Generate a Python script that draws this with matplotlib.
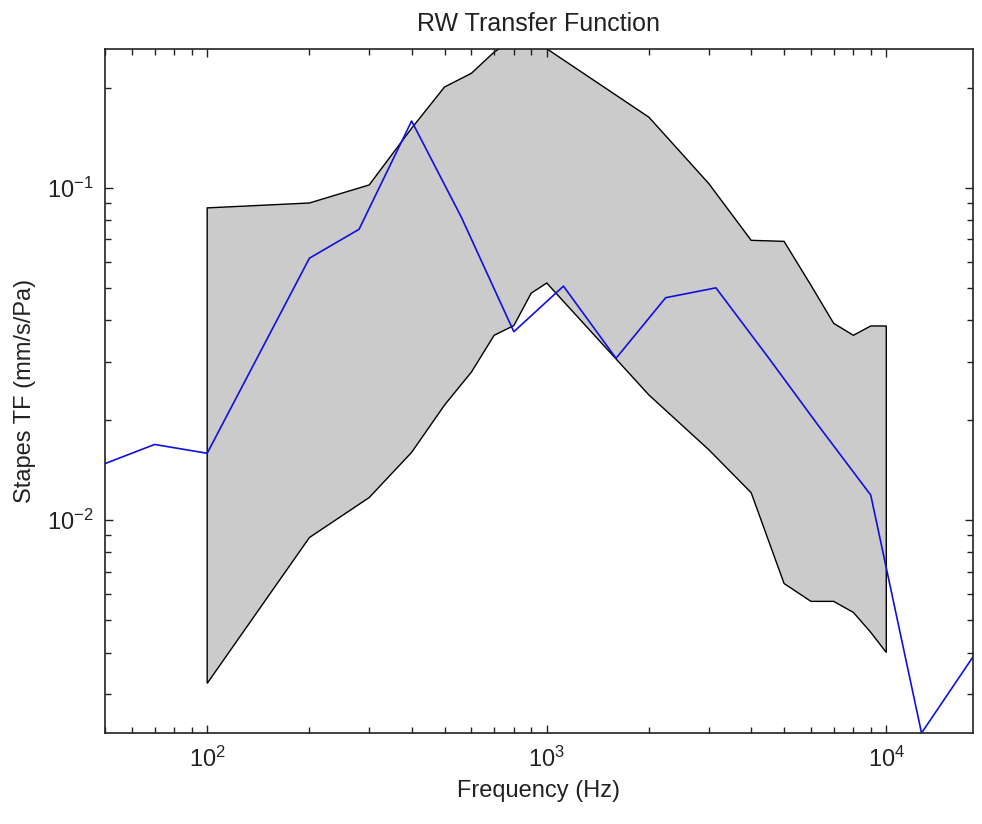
import matplotlib
matplotlib.use('Agg')
import matplotlib.pyplot as plt
from matplotlib.ticker import NullFormatter

plt.rcParams['font.family'] = ['Liberation Sans', 'DejaVu Sans']
plt.rcParams['mathtext.fontset'] = 'custom'
plt.rcParams['mathtext.rm'] = 'Liberation Sans'
plt.rcParams['mathtext.default'] = 'regular'
plt.rcParams['axes.unicode_minus'] = False

# normal range band (upper / lower bounds)
band_freq = [100, 200, 300, 400, 500, 600, 700, 800, 900, 1000,
             2000, 3000, 4000, 5000, 6000, 7000, 8000, 9000, 10000]
band_upper = [0.087, 0.090, 0.102, 0.151, 0.201, 0.221, 0.256, 0.28, 0.28, 0.262,
              0.163, 0.103, 0.0695, 0.069, 0.0509, 0.0391, 0.0360, 0.0384, 0.0384]
band_lower = [0.00323, 0.00887, 0.0117, 0.0160, 0.0222, 0.0279, 0.0360, 0.0385, 0.0482, 0.0517,
              0.0238, 0.0163, 0.0121, 0.00645, 0.0057, 0.0057, 0.00528, 0.0046, 0.0040]

# measured stapes transfer function
tf_freq = [50, 70, 100, 200, 280, 400, 560, 800, 1120, 1600, 2240, 3150,
           4500, 6300, 9000, 12700, 18000]
tf_vals = [0.0148, 0.0169, 0.0159, 0.0614, 0.0750, 0.1588, 0.0817, 0.0369, 0.0506,
           0.0307, 0.0467, 0.0500, 0.0308, 0.0193, 0.0119, 0.00229, 0.00388]

fig = plt.figure(figsize=(9.82, 8.24), dpi=100)
ax = fig.add_axes([0.1069, 0.1104, 0.8839, 0.8298])

poly_x = band_freq + band_freq[::-1]
poly_y = band_upper + band_lower[::-1]
ax.fill(poly_x, poly_y, facecolor='#cbcbcb', edgecolor='black', linewidth=1.0)

ax.plot(tf_freq, tf_vals, color='#1010e0', linewidth=1.2)

ax.set_xscale('log')
ax.set_yscale('log')
ax.set_xlim(50, 18000)
ax.set_ylim(0.00229, 0.261)

ax.xaxis.set_minor_formatter(NullFormatter())
ax.yaxis.set_minor_formatter(NullFormatter())
ax.tick_params(which='both', direction='in', top=True, right=True, colors='#222222')
ax.tick_params(which='major', length=6, width=1.0)
ax.tick_params(which='minor', length=4, width=1.0)
ax.tick_params(axis='x', which='major', pad=10, labelsize=17)
ax.tick_params(axis='y', which='major', pad=8, labelsize=17)
for s in ax.spines.values():
    s.set_color('#222222')
    s.set_linewidth(1.2)

ax.set_xlabel('Frequency (Hz)', fontsize=17, color='#222222', labelpad=6)
ax.set_ylabel('Stapes TF (mm/s/Pa)', fontsize=17, color='#222222', labelpad=8)
ax.set_title('RW Transfer Function', fontsize=18, color='#222222', pad=13)

fig.savefig('out.png', dpi=100)
